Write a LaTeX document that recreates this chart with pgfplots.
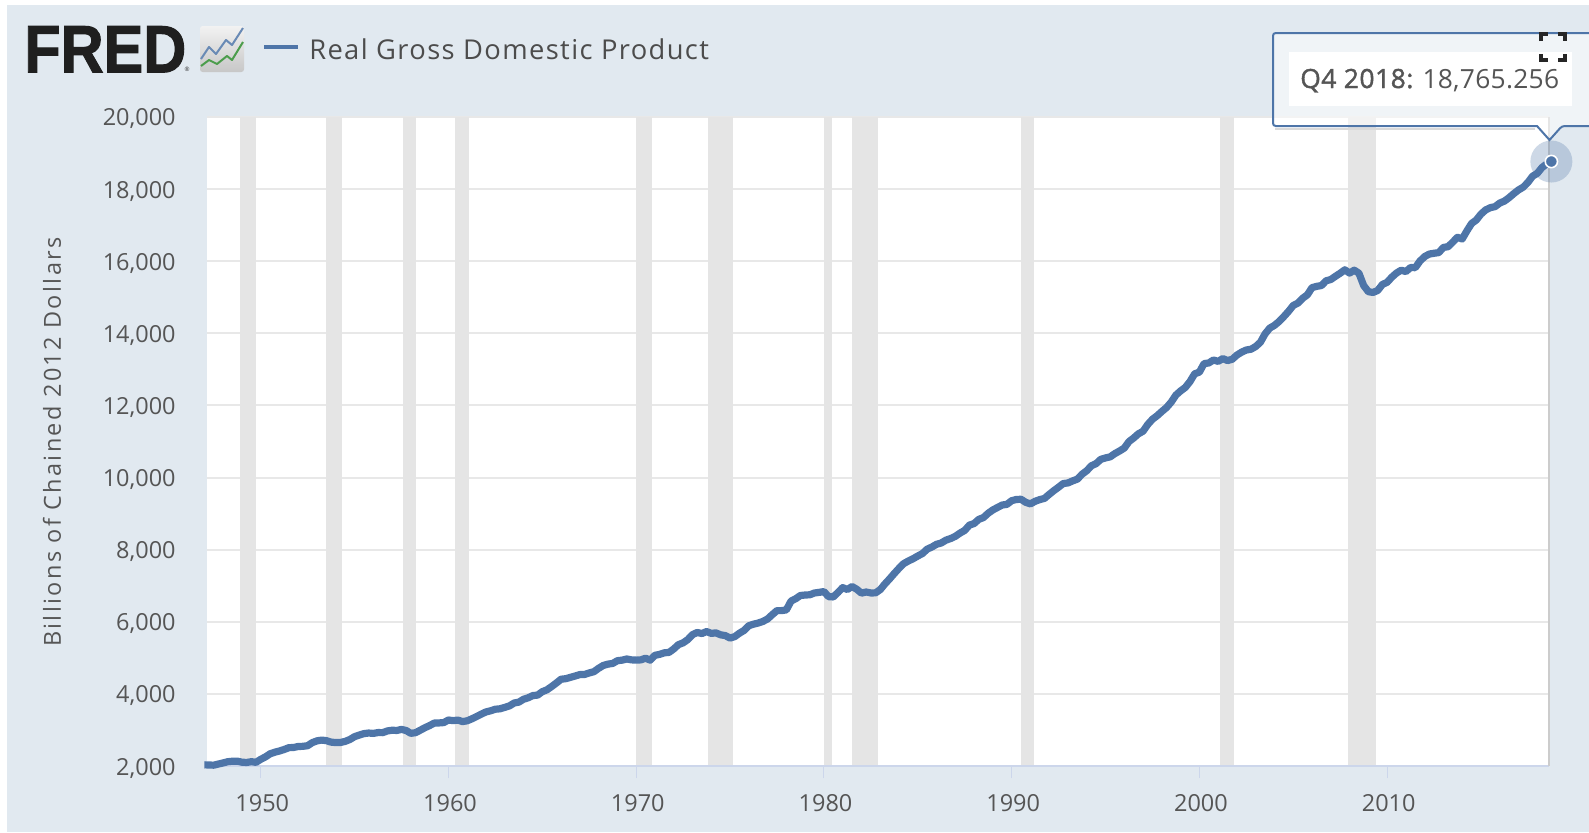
\documentclass[border=0pt]{standalone}
\usepackage{pgfplots}
\usepackage{pgfplotstable}
\usepackage{fontspec}
\pgfplotsset{compat=1.18}
\usetikzlibrary{shadings}
\setmainfont{Open Sans}
\newfontfamily\logofont[FakeBold=1.6]{Liberation Sans Bold}
\newfontfamily\legendfont[LetterSpace=5]{Open Sans}
\newfontfamily\ylabfont[LetterSpace=10]{Open Sans}
\newfontfamily\tipbold[FakeBold=1.5,LetterSpace=2]{Open Sans}
\newfontfamily\tipreg[LetterSpace=1]{Open Sans}
\definecolor{bg}{HTML}{E1E9F0}
\definecolor{line}{HTML}{4E75A8}
\definecolor{band}{HTML}{E5E5E5}
\definecolor{gridc}{HTML}{E8E8E8}
\definecolor{axisc}{HTML}{CCD6EB}
\definecolor{txt}{HTML}{555555}
\pgfplotstableread{
x y
1947.00 2033
1947.25 2028
1947.50 2023
1947.75 2055
1948.00 2086
1948.25 2120
1948.50 2133
1948.75 2135
1949.00 2106
1949.25 2098
1949.50 2120
1949.75 2102
1950.00 2185
1950.25 2252
1950.50 2339
1950.75 2383
1951.00 2416
1951.25 2458
1951.50 2508
1951.75 2514
1952.00 2541
1952.25 2546
1952.50 2564
1952.75 2649
1953.00 2698
1953.25 2719
1953.50 2703
1953.75 2662
1954.00 2650
1954.25 2653
1954.50 2683
1954.75 2735
1955.00 2813
1955.25 2859
1955.50 2898
1955.75 2915
1956.00 2904
1956.25 2928
1956.50 2925
1956.75 2973
1957.00 2992
1957.25 2986
1957.50 3015
1957.75 2984
1958.00 2906
1958.25 2925
1958.50 2993
1958.75 3063
1959.00 3122
1959.25 3192
1959.50 3195
1959.75 3204
1960.00 3276
1960.25 3258
1960.50 3274
1960.75 3232
1961.00 3254
1961.25 3309
1961.50 3373
1961.75 3439
1962.00 3500
1962.25 3532
1962.50 3575
1962.75 3587
1963.00 3626
1963.25 3667
1963.50 3747
1963.75 3772
1964.00 3851
1964.25 3893
1964.50 3954
1964.75 3966
1965.00 4062
1965.25 4114
1965.50 4205
1965.75 4302
1966.00 4407
1966.25 4422
1966.50 4459
1966.75 4496
1967.00 4536
1967.25 4538
1967.50 4581
1967.75 4616
1968.00 4710
1968.25 4789
1968.50 4826
1968.75 4845
1969.00 4921
1969.25 4936
1969.50 4968
1969.75 4944
1970.00 4937
1970.25 4944
1970.50 4989
1970.75 4936
1971.00 5070
1971.25 5097
1971.50 5139
1971.75 5151
1972.00 5246
1972.25 5365
1972.50 5416
1972.75 5506
1973.00 5643
1973.25 5704
1973.50 5674
1973.75 5729
1974.00 5679
1974.25 5692
1974.50 5638
1974.75 5617
1975.00 5548
1975.25 5588
1975.50 5683
1975.75 5760
1976.00 5890
1976.25 5933
1976.50 5965
1976.75 6009
1977.00 6079
1977.25 6198
1977.50 6310
1977.75 6310
1978.00 6330
1978.25 6574
1978.50 6640
1978.75 6730
1979.00 6742
1979.25 6749
1979.50 6799
1979.75 6816
1980.00 6838
1980.25 6697
1980.50 6689
1980.75 6814
1981.00 6947
1981.25 6896
1981.50 6978
1981.75 6902
1982.00 6795
1982.25 6826
1982.50 6800
1982.75 6802
1983.00 6892
1983.25 7049
1983.50 7190
1983.75 7340
1984.00 7483
1984.25 7613
1984.50 7686
1984.75 7749
1985.00 7824
1985.25 7893
1985.50 8014
1985.75 8073
1986.00 8149
1986.25 8185
1986.50 8264
1986.75 8308
1987.00 8370
1987.25 8460
1987.50 8534
1987.75 8680
1988.00 8725
1988.25 8840
1988.50 8891
1988.75 9010
1989.00 9102
1989.25 9171
1989.50 9239
1989.75 9257
1990.00 9358
1990.25 9392
1990.50 9398
1990.75 9313
1991.00 9269
1991.25 9342
1991.50 9389
1991.75 9422
1992.00 9534
1992.25 9638
1992.50 9733
1992.75 9835
1993.00 9851
1993.25 9908
1993.50 9956
1993.75 10091
1994.00 10189
1994.25 10327
1994.50 10387
1994.75 10506
1995.00 10544
1995.25 10575
1995.50 10665
1995.75 10737
1996.00 10818
1996.25 10998
1996.50 11097
1996.75 11212
1997.00 11285
1997.25 11472
1997.50 11616
1997.75 11715
1998.00 11832
1998.25 11942
1998.50 12092
1998.75 12287
1999.00 12403
1999.25 12499
1999.50 12662
1999.75 12878
2000.00 12924
2000.25 13161
2000.50 13178
2000.75 13261
2001.00 13223
2001.25 13300
2001.50 13245
2001.75 13281
2002.00 13397
2002.25 13478
2002.50 13538
2002.75 13559
2003.00 13634
2003.25 13752
2003.50 13985
2003.75 14146
2004.00 14221
2004.25 14330
2004.50 14465
2004.75 14610
2005.00 14772
2005.25 14840
2005.50 14972
2005.75 15067
2006.00 15267
2006.25 15303
2006.50 15326
2006.75 15457
2007.00 15493
2007.25 15582
2007.50 15667
2007.75 15762
2008.00 15671
2008.25 15752
2008.50 15667
2008.75 15328
2009.00 15156
2009.25 15134
2009.50 15189
2009.75 15356
2010.00 15415
2010.25 15557
2010.50 15672
2010.75 15751
2011.00 15713
2011.25 15825
2011.50 15821
2011.75 16004
2012.00 16129
2012.25 16199
2012.50 16221
2012.75 16239
2013.00 16383
2013.25 16403
2013.50 16532
2013.75 16664
2014.00 16617
2014.25 16841
2014.50 17047
2014.75 17143
2015.00 17306
2015.25 17423
2015.50 17486
2015.75 17514
2016.00 17613
2016.25 17668
2016.50 17764
2016.75 17876
2017.00 17977
2017.25 18054
2017.50 18186
2017.75 18359
2018.00 18438
2018.25 18598
2018.50 18699
2018.75 18765.256
}\gdp
\begin{document}
\begin{tikzpicture}[x=0.75pt,y=-0.75pt]
\useasboundingbox (0,0) rectangle (1589,832);
\fill[white] (0,0) rectangle (1589,832);
\fill[bg] (7,5) rectangle (1589,832);
\fill[white] (207,117) rectangle (1549,766);
\begin{axis}[
  at={(207pt*0.75,-766pt*0.75)}, anchor=south west,
  scale only axis, width=1342*0.75pt, height=649*0.75pt,
  xmin=1947.14, xmax=2018.63, ymin=2000, ymax=20000,
  clip=false,
  axis line style={draw=none},
  xtick={1950,1960,1970,1980,1990,2000,2010},
  ytick={2000,4000,6000,8000,10000,12000,14000,16000,18000,20000},
  ymajorgrids, xmajorgrids=false,
  major grid style={draw=gridc,line width=1.5pt},
  tick align=outside,
  major tick length=9pt,
  xtick style={draw=axisc,line width=0.9pt},
  ytick style={draw=none},
  xticklabel pos=bottom,
  xtick pos=bottom, ytick pos=left,
  tick label style={font=\fontsize{17.6}{20}\selectfont,text=txt},
  xticklabel style={/pgf/number format/1000 sep={},/pgf/number format/assume math mode=true,yshift=-9pt,xshift=1.2pt},
  yticklabel style={/pgf/number format/1000 sep={,},/pgf/number format/min exponent for 1000 sep=0,/pgf/number format/assume math mode=true,xshift=-11pt,yshift=-1.5pt},
  scaled y ticks=false,
  ylabel={\ylabfont Billions of Chained 2012 Dollars},
  ylabel style={font=\fontsize{17.6}{20}\selectfont,text=txt,at={(axis description cs:-0.1155,0.499)},anchor=center},
]
\addplot[fill=band,draw=none] coordinates {(1948.92,2000)(1948.92,20000)(1949.75,20000)(1949.75,2000)} --cycle;
\addplot[fill=band,draw=none] coordinates {(1953.50,2000)(1953.50,20000)(1954.33,20000)(1954.33,2000)} --cycle;
\addplot[fill=band,draw=none] coordinates {(1957.60,2000)(1957.60,20000)(1958.25,20000)(1958.25,2000)} --cycle;
\addplot[fill=band,draw=none] coordinates {(1960.33,2000)(1960.33,20000)(1961.08,20000)(1961.08,2000)} --cycle;
\addplot[fill=band,draw=none] coordinates {(1970.00,2000)(1970.00,20000)(1970.83,20000)(1970.83,2000)} --cycle;
\addplot[fill=band,draw=none] coordinates {(1973.80,2000)(1973.80,20000)(1975.17,20000)(1975.17,2000)} --cycle;
\addplot[fill=band,draw=none] coordinates {(1980.00,2000)(1980.00,20000)(1980.42,20000)(1980.42,2000)} --cycle;
\addplot[fill=band,draw=none] coordinates {(1981.50,2000)(1981.50,20000)(1982.87,20000)(1982.87,2000)} --cycle;
\addplot[fill=band,draw=none] coordinates {(1990.48,2000)(1990.48,20000)(1991.17,20000)(1991.17,2000)} --cycle;
\addplot[fill=band,draw=none] coordinates {(2001.12,2000)(2001.12,20000)(2001.83,20000)(2001.83,2000)} --cycle;
\addplot[fill=band,draw=none] coordinates {(2007.92,2000)(2007.92,20000)(2009.42,20000)(2009.42,2000)} --cycle;
\draw[axisc,line width=1.5pt] (rel axis cs:0,0) -- (rel axis cs:1,0);
\draw[black!20,line width=1.5pt] (rel axis cs:1,0) -- (rel axis cs:1,1);
\addplot[line,line width=5.4pt,line join=round,line cap=butt,no marks] table[x=x,y=y] {\gdp};
\addplot[only marks,mark=*,mark size=15.75pt,mark options={draw opacity=0,line width=0pt,fill=line,fill opacity=0.28}] coordinates {(2018.75,18765.256)};
\addplot[only marks,mark=*,mark size=4.6pt,mark options={draw=white,line width=1.2pt,fill=line}] coordinates {(2018.75,18765.256)};
\end{axis}
% legend
\draw[line,line width=3pt] (264,47) -- (298,47);
\node[anchor=west,inner sep=0pt,text=txt!90!black] at (309,49) {\legendfont\fontsize{20.5}{24}\selectfont Real Gross Domestic Product};
% logo
\node[anchor=north west,inner sep=0pt,text=black!88] at (24,26) {\resizebox{121.5pt}{34.5pt}{\logofont FRED}};
\node[anchor=center,inner sep=0pt,text=black!80] at (187,69) {\fontsize{4.5}{5}\selectfont ®};
\shade[top color=white!95!black,bottom color=black!22,rounded corners=2pt] (200,26) rectangle (244,72);
\draw[line!85!white,line width=1.5pt,line join=round] (201,59) -- (209,47) -- (216,54) -- (226,40) -- (232,45) -- (243,28);
\draw[green!45!black!70!white,line width=1.5pt,line join=round] (201,66) -- (209,60) -- (217,64) -- (227,56) -- (232,60) -- (243,42);
% tooltip shadow and box
\draw[black!15,line width=1.5pt] (1275,129) -- (1535,129);
\draw[line,line width=1.5pt,fill=white,fill opacity=0.5,rounded corners=2pt]
  (1273,33) -- (1596,33) -- (1596,126) -- (1562,126) [sharp corners] -- (1549.5,140) -- (1537,126) [rounded corners=2pt] -- (1273,126) -- cycle;
\fill[white] (1289,52) rectangle (1572,106);
\node[anchor=base west,inner sep=0pt,text=txt] at (1300,88) {\fontsize{19.8}{24}\selectfont {\tipbold Q4 2018:} {\tipreg 18,765.256}};
% fullscreen icon
\begin{scope}[black!85,line width=2.4pt]
\draw (1541,41) -- (1541,34) -- (1548,34);
\draw (1558,34) -- (1565,34) -- (1565,41);
\draw (1541,54) -- (1541,60) -- (1548,60);
\draw (1558,60) -- (1565,60) -- (1565,54);
\end{scope}
\end{tikzpicture}
\end{document}
